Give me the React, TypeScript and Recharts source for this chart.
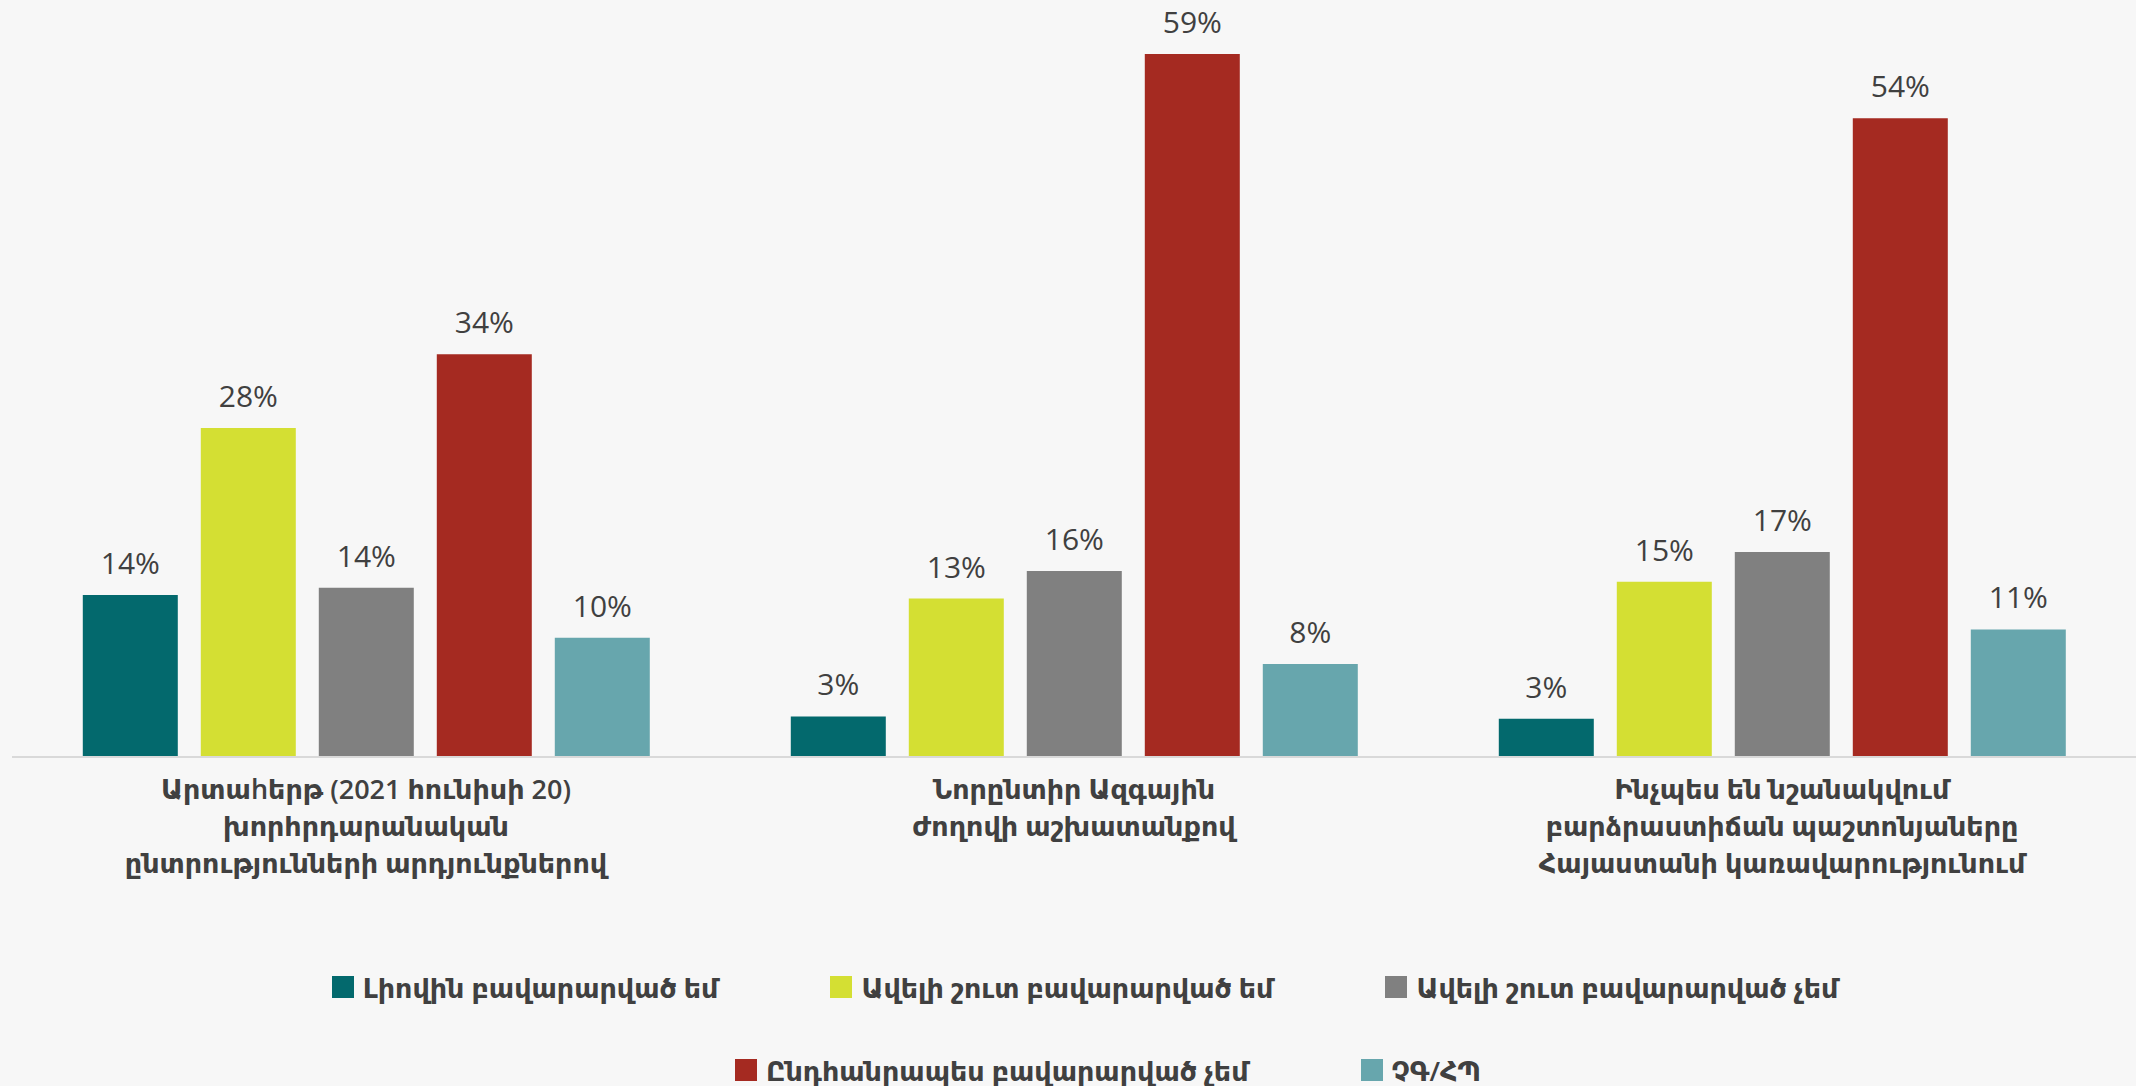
import React from 'react';
import { BarChart, Bar, XAxis, YAxis, Legend, LabelList } from 'recharts';

const categories = [
  ['Արտաhերթ (2021 հունիսի 20)', 'խորհրդարանական', 'ընտրությունների արդյունքներով'],
  ['Նորընտիր Ազգային', 'ժողովի աշխատանքով'],
  ['Ինչպես են նշանակվում', 'բարձրաստիճան պաշտոնյաները', 'Հայաստանի կառավարությունում']
];

const fullySatisfied = [13.6, 3.4, 3.2];
const ratherSatisfied = [27.6, 13.3, 14.7];
const ratherNotSatisfied = [14.2, 15.6, 17.2];
const notSatisfied = [33.8, 59, 53.6];
const dkRefused = [10, 7.8, 10.7];

const seriesNames = [
  'Լիովին բավարարված եմ',
  'Ավելի շուտ բավարարված եմ',
  'Ավելի շուտ բավարարված չեմ',
  'Ընդհանրապես բավարարված չեմ',
  'ՉԳ/ՀՊ'
];

const colors = ['#03696D', '#D4DF33', '#808080', '#A52A21', '#67A6AD'];

const data = categories.map((lines, i) => ({
  name: lines.join('\n'),
  s0: fullySatisfied[i],
  s1: ratherSatisfied[i],
  s2: ratherNotSatisfied[i],
  s3: notSatisfied[i],
  s4: dkRefused[i]
}));

const FONT = '"Open Sans", "DejaVu Sans", sans-serif';
const TEXT = '#404040';

const CategoryTick: React.FC<any> = ({ x, y, payload }) => {
  const lines = String(payload.value).split('\n');
  return (
    <text x={x} y={y} textAnchor="middle" fill={TEXT} fontFamily={FONT} fontSize={27} fontWeight={600}>
      {lines.map((l, i) => (
        <tspan key={i} x={x} dy={i === 0 ? 34 : 37}>
          {l}
        </tspan>
      ))}
    </text>
  );
};

const LegendContent: React.FC<any> = ({ payload }) => {
  const items = [...(payload || [])].sort(
    (a: any, b: any) => seriesNames.indexOf(a.value) - seriesNames.indexOf(b.value)
  );
  const rows = [items.slice(0, 3), items.slice(3)];
  return (
    <div style={{ height: 180, paddingTop: 64, boxSizing: 'border-box' }}>
      {rows.map((row: any[], r: number) => (
        <div
          key={r}
          style={{
            display: 'flex',
            justifyContent: 'center',
            gap: 112,
            height: 34,
            marginBottom: 49,
            paddingLeft: r === 1 ? 68 : 22,
            alignItems: 'center'
          }}>
          {row.map((it: any) => (
            <div key={it.value} style={{ display: 'flex', alignItems: 'center' }}>
              <span style={{ width: 22, height: 22, background: it.color, marginRight: 9, display: 'inline-block' }} />
              <span style={{ fontFamily: FONT, fontSize: 27, fontWeight: 600, color: TEXT }}>{it.value}</span>
            </div>
          ))}
        </div>
      ))}
    </div>
  );
};

export default function App() {
  return (
    <div style={{ width: 2136, height: 1086, background: '#F7F7F7' }}>
      <style>{`body{margin:0}`}</style>
      <BarChart
        width={2136}
        height={1086}
        data={data}
        margin={{ top: 42, right: 0, left: 12, bottom: 0 }}
        barCategoryGap="10%"
        barGap={23}>
        <XAxis
          dataKey="name"
          interval={0}
          tickLine={false}
          axisLine={{ stroke: '#D9D9D9', strokeWidth: 2 }}
          tick={<CategoryTick />}
          height={149}
        />
        <YAxis hide domain={[0, 60]} />
        <Legend verticalAlign="bottom" content={<LegendContent />} />
        {['s0', 's1', 's2', 's3', 's4'].map((k, i) => (
          <Bar key={k} dataKey={k} name={seriesNames[i]} fill={colors[i]} isAnimationActive={false}>
            <LabelList
              dataKey={k}
              position="top"
              offset={21}
              formatter={(v: any) => `${Math.round(Number(v))}%`}
              fill={TEXT}
              fontFamily={FONT}
              fontSize={30}
            />
          </Bar>
        ))}
      </BarChart>
    </div>
  );
}
